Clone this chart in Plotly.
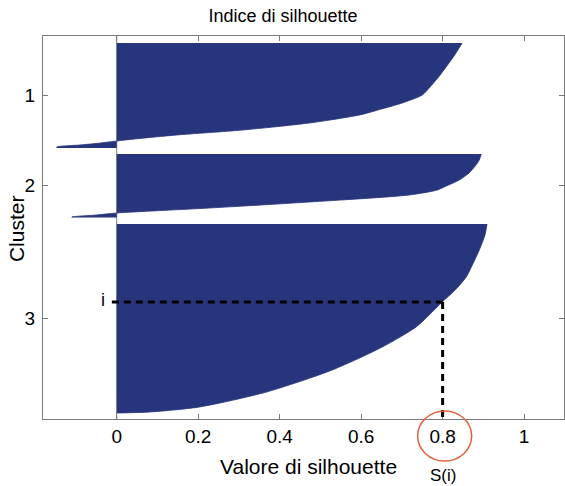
import plotly.graph_objects as go

# ---- data ----
# observation index (top = 0) and silhouette value, sorted within each cluster
c1_idx = [7, 20, 40, 52, 59, 67, 73, 79, 87, 94, 99, 103, 105, 107, 109, 111, 112]
c1_val = [0.848, 0.828, 0.792, 0.767, 0.750, 0.701, 0.650, 0.596, 0.473, 0.309, 0.147, 0.044, 0.0, -0.04, -0.09, -0.147, -0.147]

c2_idx = [118, 124, 130, 137, 144, 150, 154, 159, 166, 172, 177, 179, 181, 181.5]
c2_val = [0.895, 0.890, 0.880, 0.865, 0.841, 0.809, 0.787, 0.718, 0.473, 0.228, 0.0, -0.05, -0.11, -0.11]

c3_idx = [188, 199, 214, 229, 241, 254, 266, 279, 291, 311, 334, 356, 371, 376, 377]
c3_val = [0.909, 0.904, 0.890, 0.873, 0.858, 0.831, 0.799, 0.767, 0.735, 0.652, 0.529, 0.368, 0.203, 0.081, 0.0]

cluster_ticks = [59.5, 149.5, 282.5]
cluster_labels = ["1", "2", "3"]
x_ticks = [0, 0.2, 0.4, 0.6, 0.8, 1]
x_tick_labels = ["0", "0.2", "0.4", "0.6", "0.8", "1"]

point_i_idx = 266
point_i_val = 0.8

BLUE = "#27367c"
GRAY = "#7a7a7a"
FONT = "Liberation Sans, Arial, sans-serif"

fig = go.Figure()
for idx, val in [(c1_idx, c1_val), (c2_idx, c2_val), (c3_idx, c3_val)]:
    fig.add_trace(go.Scatter(x=val, y=idx, mode="lines", fill="tozerox",
                             fillcolor=BLUE,
                             line=dict(color=BLUE, width=0.8, shape="spline", smoothing=0.7),
                             hoverinfo="skip", showlegend=False))

# baseline at x=0
fig.add_shape(type="line", x0=0, x1=0, y0=0, y1=383, xref="x", yref="y",
              line=dict(color=GRAY, width=1), layer="below")
# dashed guide lines
fig.add_shape(type="line", x0=-0.012, x1=point_i_val, y0=point_i_idx, y1=point_i_idx,
              xref="x", yref="y", line=dict(color="black", width=3, dash="7px,5px"))
fig.add_shape(type="line", x0=point_i_val, x1=point_i_val, y0=point_i_idx, y1=383,
              xref="x", yref="y", line=dict(color="black", width=3, dash="7px,5px"))
# red circle around the 0.8 tick label (below the axis)
fig.add_shape(type="circle", xref="x", yref="paper",
              xsizemode="pixel", xanchor=point_i_val + 0.005, x0=-27, x1=27,
              ysizemode="pixel", yanchor=(419 - 436) / 383, y0=-25, y1=25,
              line=dict(color="#e0603a", width=1.5))

fig.add_annotation(x=-0.034, y=264, xref="x", yref="y", text="i", showarrow=False,
                   font=dict(family=FONT, size=18, color="black"))
fig.add_annotation(x=point_i_val, y=(419 - 475) / 383, xref="x", yref="paper", text="S(i)",
                   showarrow=False, yanchor="middle",
                   font=dict(family=FONT, size=17, color="black"))
fig.add_annotation(x=(309 - 43) / 522, y=(419 - 466) / 383, xref="paper", yref="paper",
                   text="Valore di silhouette", showarrow=False, yanchor="middle",
                   font=dict(family=FONT, size=21, color="black"))
fig.add_annotation(x=-(43 - 16) / 522, y=(419 - 229) / 383, xref="paper", yref="paper",
                   text="Cluster", showarrow=False, textangle=-90, xanchor="center",
                   yanchor="middle", font=dict(family=FONT, size=21, color="black"))

fig.update_layout(
    width=565, height=486,
    margin=dict(l=43, r=1, t=36, b=67),
    paper_bgcolor="white", plot_bgcolor="white",
    title=dict(text="Indice di silhouette", x=283 / 565, xref="container", xanchor="center",
               y=1 - 16 / 486, yref="container", yanchor="middle",
               font=dict(family=FONT, size=18, color="black")),
    font=dict(family=FONT, color="black"),
    xaxis=dict(range=[-0.181, 1.098], tickvals=x_ticks, ticktext=x_tick_labels,
               showgrid=False, zeroline=False, showline=True, linecolor=GRAY,
               linewidth=1, mirror="ticks", ticks="inside", ticklen=5, tickcolor=GRAY,
               tickfont=dict(family=FONT, size=19, color="black")),
    yaxis=dict(range=[383, 0], tickvals=cluster_ticks, ticktext=cluster_labels,
               showgrid=False, zeroline=False, showline=True, linecolor=GRAY,
               linewidth=1, mirror="ticks", ticks="inside", ticklen=5, tickcolor=GRAY,
               ticklabelstandoff=3,
               tickfont=dict(family=FONT, size=19, color="black")),
)

fig.write_html("out.html")
